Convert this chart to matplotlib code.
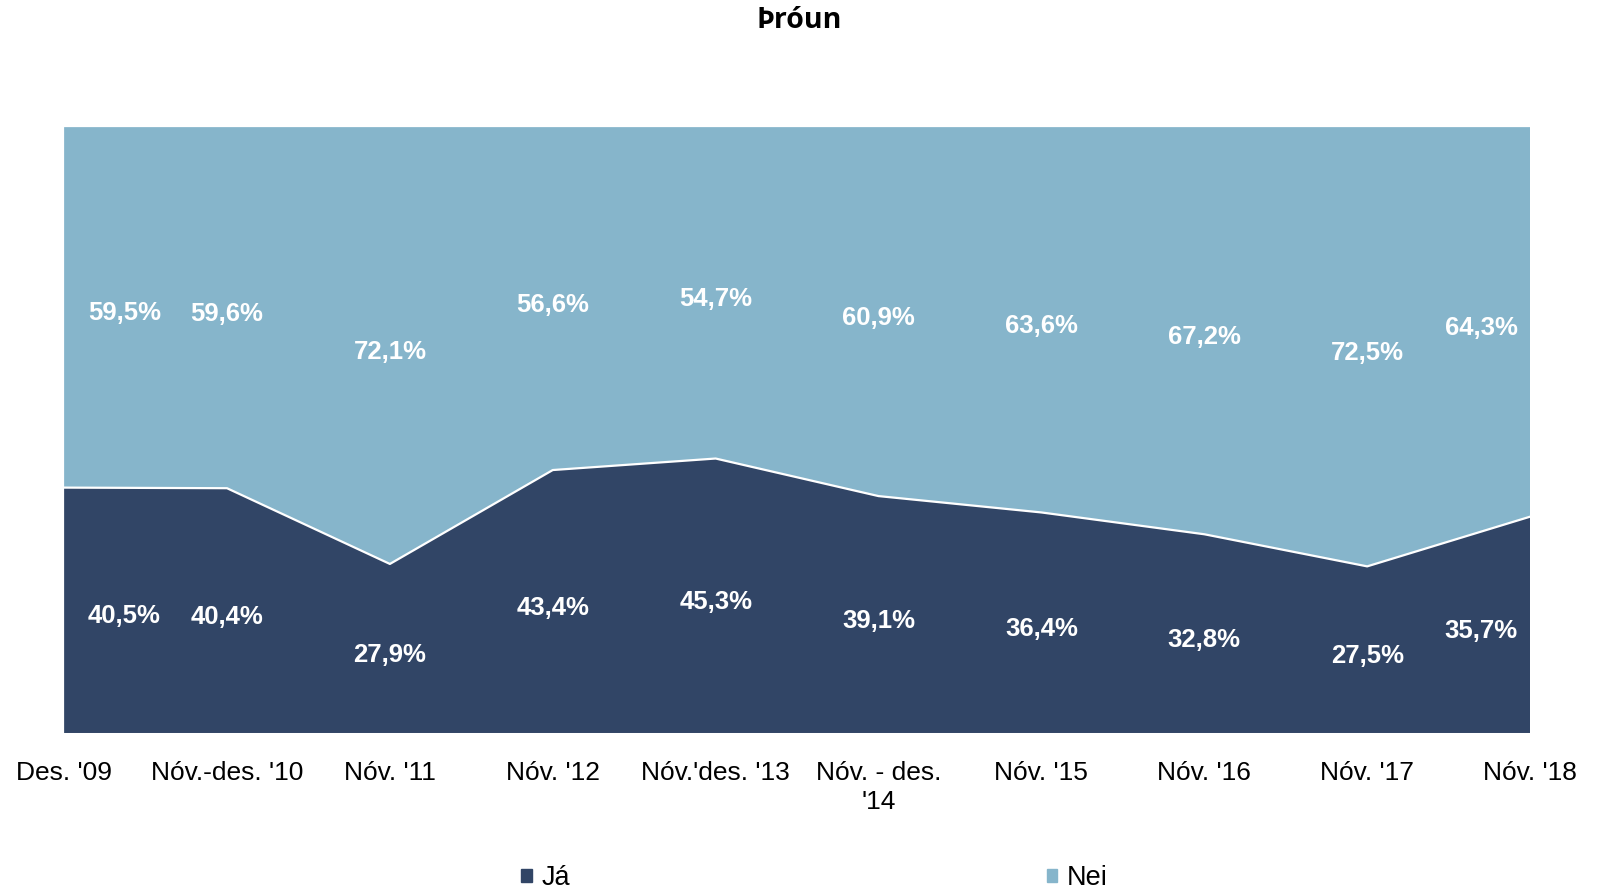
import numpy as np
import matplotlib.pyplot as plt
from matplotlib.patches import Patch

# survey rounds on the x axis
categories = ["Des. '09", "Nóv.-des. '10", "Nóv. '11", "Nóv. '12", "Nóv.'des. '13",
              "Nóv. - des.\n'14", "Nóv. '15", "Nóv. '16", "Nóv. '17", "Nóv. '18"]

# share of answers, percent
ja = [40.5, 40.4, 27.9, 43.4, 45.3, 39.1, 36.4, 32.8, 27.5, 35.7]
nei = [59.5, 59.6, 72.1, 56.6, 54.7, 60.9, 63.6, 67.2, 72.5, 64.3]

DARK = '#314566'
LIGHT = '#86b5cb'

plt.rcParams['font.family'] = ['Liberation Sans', 'DejaVu Sans']

fig = plt.figure(figsize=(16.03, 8.89), dpi=100)
ax = fig.add_axes([0.040, 0.1755, 0.9145, 0.6815])

x = np.arange(len(categories))
ja_arr = np.array(ja)
nei_arr = np.array(nei)

ax.stackplot(x, ja_arr, nei_arr, colors=[DARK, LIGHT], linewidth=0)
# white separator between the two areas
ax.plot(x, ja_arr, color='white', lw=1.6)

ax.set_xlim(0, len(categories) - 1)
ax.set_ylim(0, 100)
ax.set_yticks([])
ax.set_xticks(x)
ax.set_xticklabels(categories, fontsize=19, linespacing=1.3)
ax.tick_params(axis='x', length=0, pad=20)
for s in ax.spines.values():
    s.set_visible(False)

# data labels, centred in each band; end labels nudged inward
lab_x = x.astype(float)
lab_x[0] += 0.37
lab_x[-1] -= 0.30
for xi, a, b in zip(lab_x, ja_arr, nei_arr):
    ax.text(xi, a / 2 - 1.0, f"{a:.1f}%".replace('.', ','), color='white',
            fontsize=18.5, fontweight='bold', ha='center', va='center')
    ax.text(xi, a + b / 2 - 1.0, f"{b:.1f}%".replace('.', ','), color='white',
            fontsize=18.5, fontweight='bold', ha='center', va='center')

fig.text(0.4985, 0.977, 'Þróun', fontsize=20.5, fontweight='bold',
         family=['Open Sans', 'DejaVu Sans'], ha='center', va='center')

handles = [Patch(color=DARK, label='Já'), Patch(color=LIGHT, label='Nei')]
fig.legend(handles=handles, loc='center', bbox_to_anchor=(0.508, 0.012), ncol=2,
           frameon=False, fontsize=19.5, handlelength=0.38, handleheight=0.38,
           handletextpad=0.35, columnspacing=17.6)

fig.savefig('out.png', dpi=100)
